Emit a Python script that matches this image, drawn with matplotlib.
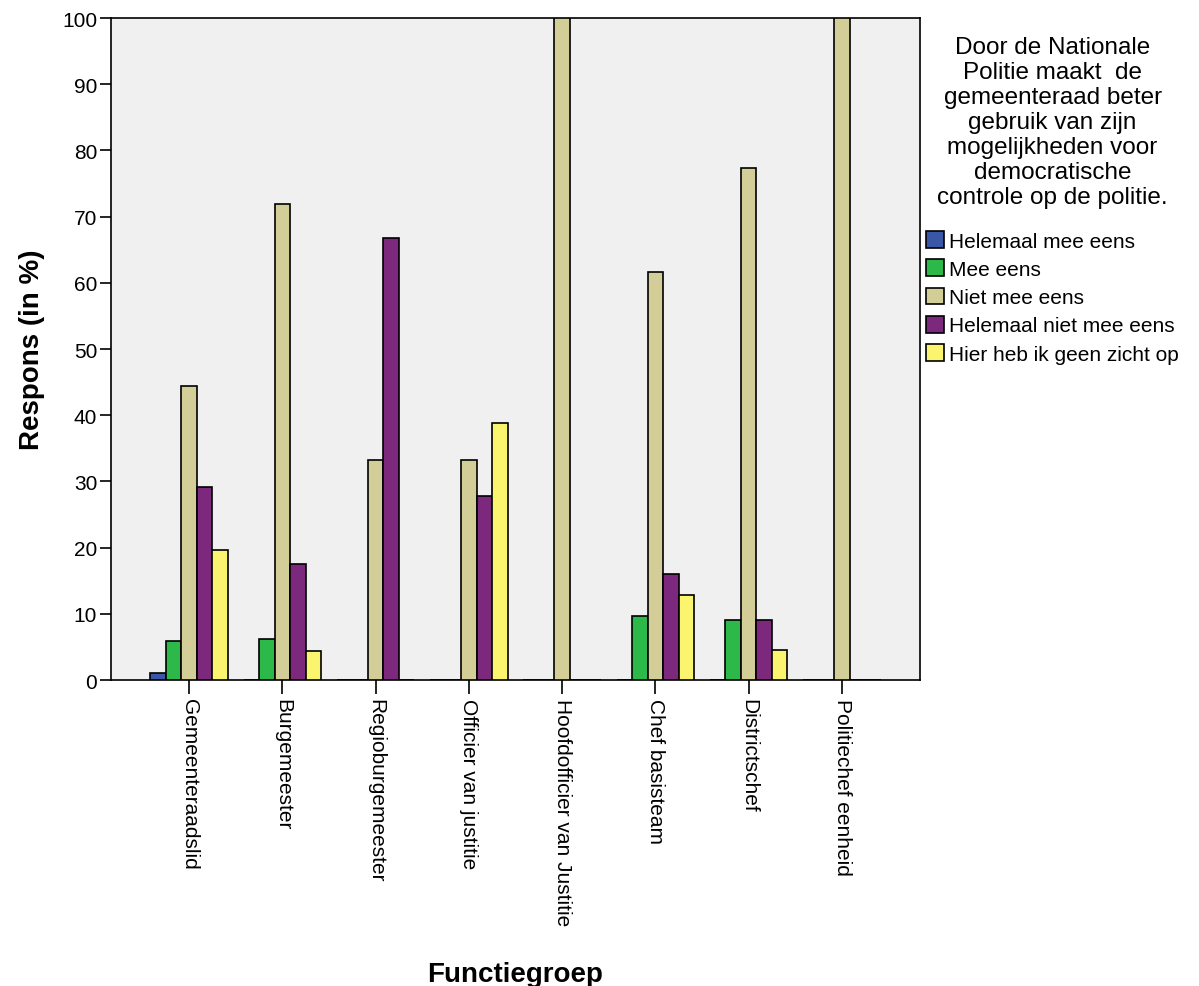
import matplotlib
import matplotlib.pyplot as plt
import numpy as np
matplotlib.use('Agg')

plt.rcParams['font.family'] = ['Liberation Sans', 'DejaVu Sans']

categories = ["Gemeenteraadslid", "Burgemeester", "Regioburgemeester", "Officier van justitie",
              "Hoofdofficier van Justitie", "Chef basisteam", "Districtschef", "Politiechef eenheid"]
series_names = ["Helemaal mee eens", "Mee eens", "Niet mee eens",
                "Helemaal niet mee eens", "Hier heb ik geen zicht op"]
helemaal_mee_eens = [1.0, 0, 0, 0, 0, 0, 0, 0]
mee_eens = [5.9, 6.2, 0, 0, 0, 9.7, 9.1, 0]
niet_mee_eens = [44.4, 71.9, 33.3, 33.3, 100, 61.7, 77.3, 100]
helemaal_niet = [29.2, 17.6, 66.7, 27.8, 0, 16.0, 9.1, 0]
geen_zicht = [19.6, 4.4, 0, 38.9, 0, 12.8, 4.5, 0]
colors = ["#3A57A7", "#2DB84A", "#D3CE97", "#7B287D", "#FBF46E"]

legend_title = ("Door de Nationale\nPolitie maakt  de\ngemeenteraad beter\ngebruik van zijn\n"
                "mogelijkheden voor\ndemocratische\ncontrole op de politie.")

fig = plt.figure(figsize=(11.99, 9.87), dpi=100)
ax = fig.add_axes([0.0926, 0.31, 0.6747, 0.6707])
ax.set_facecolor('#F0F0F0')

x = np.arange(len(categories))
w = 0.166
all_series = [helemaal_mee_eens, mee_eens, niet_mee_eens, helemaal_niet, geen_zicht]
for i, vals in enumerate(all_series):
    ax.bar(x + (i - 2) * w, vals, width=w, color=colors[i], edgecolor='black',
           linewidth=1.2, label=series_names[i], zorder=3)

ax.set_xlim(-0.836, 7.836)
ax.set_ylim(0, 100)
ax.set_yticks(range(0, 101, 10))
ax.set_xticks(x)
ax.set_xticklabels(categories, rotation=270, fontsize=15, va='top', ha='center')
ax.tick_params(axis='y', labelsize=15, length=8, width=1.2, direction='out', pad=2)
ax.tick_params(axis='x', length=10, width=1.2, direction='out', pad=3)
for s in ax.spines.values():
    s.set_linewidth(1.2)

ax.set_ylabel("Respons (in %)", fontsize=20, fontweight='bold', labelpad=12)
ax.set_xlabel("Functiegroep", fontsize=20, fontweight='bold', labelpad=30)
ax.xaxis.set_label_coords(0.5, -0.425)

leg = ax.legend(title=legend_title, loc='upper left', bbox_to_anchor=(1.0, 0.982),
                frameon=False, fontsize=15, title_fontsize=17.5,
                handlelength=0.85, handleheight=0.85, handletextpad=0.25,
                labelspacing=0.42, borderaxespad=0.0, borderpad=0.3)
leg.get_title().set_multialignment('center')
leg.get_title().set_linespacing(1.17)
leg._legend_box.sep = 17

plt.savefig('out.png', dpi=100)
